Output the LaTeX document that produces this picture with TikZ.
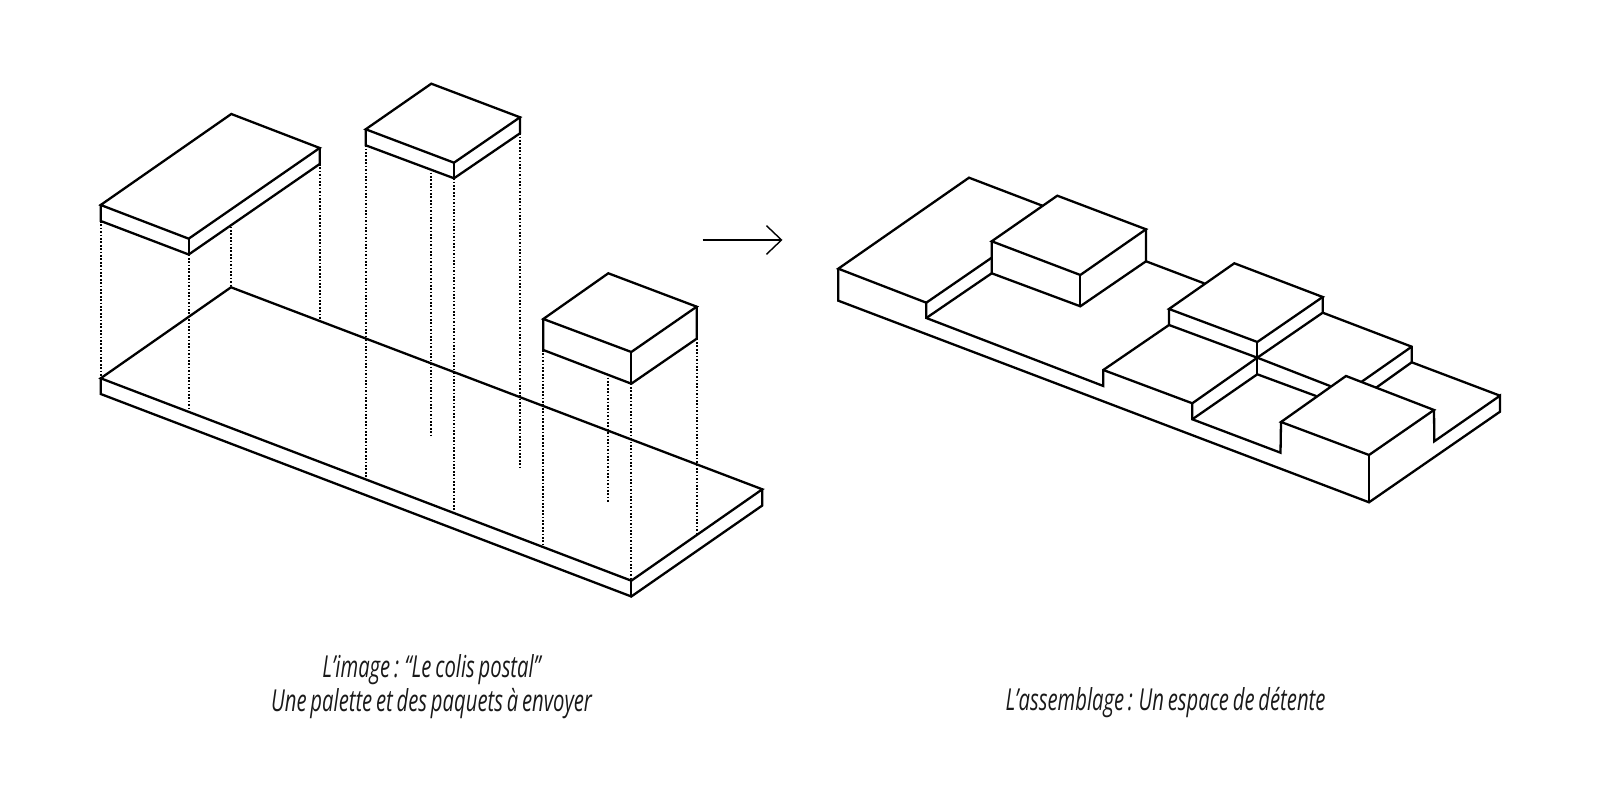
\documentclass[tikz,border=0pt]{standalone}
\usepackage{fontspec}
\usetikzlibrary{arrows.meta}
\newfontfamily\captionfont[FakeStretch=0.67,WordSpace=0.72]{Open Sans}
\begin{document}
\begin{tikzpicture}[x=0.01cm,y=-0.01cm,
		edge/.style={line width=0.023cm,line join=miter,line cap=round},
		dotline/.style={line width=0.018cm,dash pattern=on 0.017cm off 0.017cm},
		caption/.style={align=center,font=\captionfont\itshape\fontsize{8.6pt}{9.65pt}\selectfont,text=black!90,inner sep=0pt}]
			\useasboundingbox (0,0) rectangle (1600,801);
			\coordinate (A1) at (100.7,378.3);
			\coordinate (A2) at (231,287.3);
			\coordinate (A3) at (762.3,489.3);
			\coordinate (A4) at (631.3,580.7);
			\coordinate (A5) at (100.7,394);
			\coordinate (A6) at (631.3,596.5);
			\coordinate (A7) at (762.3,505.5);
			\coordinate (B1) at (100.7,205);
			\coordinate (B2) at (231.3,114);
			\coordinate (B3) at (319.7,148);
			\coordinate (B4) at (188.7,238.7);
			\coordinate (B5) at (100.7,221);
			\coordinate (B6) at (188.7,254.5);
			\coordinate (B7) at (319.7,164);
			\coordinate (C1) at (365.7,129.3);
			\coordinate (C2) at (431.3,83.7);
			\coordinate (C3) at (520,117.3);
			\coordinate (C4) at (454,162.7);
			\coordinate (C5) at (365.7,145.3);
			\coordinate (C6) at (454,178.3);
			\coordinate (C7) at (520,133.3);
			\coordinate (D1) at (543.3,319);
			\coordinate (D2) at (608.3,273.3);
			\coordinate (D3) at (696.7,306.7);
			\coordinate (D4) at (631.3,352);
			\coordinate (D5) at (543.3,350);
			\coordinate (D6) at (631.3,383.7);
			\coordinate (D7) at (696.7,338.7);
			\draw[edge] (A1) -- (A2) -- (A3) -- (A4) -- cycle;
			\draw[edge] (A1) -- (A5) -- (A6) -- (A7) -- (A3);
			\draw[edge] (A4) -- (A6);
			\foreach \pack in {B,C,D} {
				\draw[edge] (\pack1) -- (\pack2) -- (\pack3) -- (\pack4) -- cycle;
				\draw[edge] (\pack1) -- (\pack5) -- (\pack6) -- (\pack7) -- (\pack3);
				\draw[edge] (\pack4) -- (\pack6);
			}
			\draw[dotline] (B5) -- (A1);
			\draw[dotline] (B6) -- (188.7,410);
			\draw[dotline] (231,226.7) -- (A2);
			\draw[dotline] (B7) -- (319.7,319);
			\draw[dotline] (C5) -- (365.7,478);
			\draw[dotline] (431.3,172.7) -- (431.3,435);
			\draw[dotline] (C6) -- (454,511.7);
			\draw[dotline] (C7) -- (520,469.3);
			\draw[dotline] (D5) -- (543.3,545);
			\draw[dotline] (608.3,377.7) -- (608.3,502.7);
			\draw[dotline] (D6) -- (A4);
			\draw[dotline] (D7) -- (696.7,533);
			\coordinate (ArrowA) at (702.7,240);
			\coordinate (ArrowB) at (782.5,240);
			\draw[line width=0.014cm,-{Straight Barb[length=0.15cm,width=0.286cm]}] (ArrowA) -- (ArrowB);
			\coordinate (E1) at (838.3,268.7);
			\coordinate (E2) at (969,177.7);
			\coordinate (E3) at (1042.3,205.7);
			\coordinate (E4) at (926.3,302.7);
			\coordinate (E5) at (926.3,318);
			\coordinate (E6) at (838.3,300.7);
			\coordinate (E7) at (1369,502.3);
			\coordinate (E8) at (1500,411.7);
			\coordinate (E9) at (1500,395.7);
			\coordinate (F1) at (991.7,241.3);
			\coordinate (F2) at (1057.3,195.7);
			\coordinate (F3) at (1146,229.3);
			\coordinate (F4) at (1080.3,275);
			\coordinate (F5) at (991.7,273.3);
			\coordinate (F6) at (1080.3,306.3);
			\coordinate (F7) at (1146,261.3);
			\coordinate (F8) at (991.7,257.7);
			\coordinate (G1) at (1169,309);
			\coordinate (G2) at (1234.3,263.3);
			\coordinate (G3) at (1322.7,297);
			\coordinate (G4) at (1257.3,342);
			\coordinate (G5) at (1169,325);
			\coordinate (G6) at (1257.3,357.7);
			\coordinate (G7) at (1322.7,312.7);
			\coordinate (G8) at (1204,283.3);
			\coordinate (H1) at (1281,422);
			\coordinate (H2) at (1346,376);
			\coordinate (H3) at (1434,410);
			\coordinate (H4) at (1369,455);
			\coordinate (H5) at (1280.5,452.7);
			\coordinate (H6) at (1434.3,441.3);
			\coordinate (S1) at (1103.3,386);
			\coordinate (S2) at (1103.3,370);
			\coordinate (S3) at (1192.3,403.3);
			\coordinate (S4) at (1192.3,419.3);
			\coordinate (S5) at (1257.3,374.3);
			\coordinate (S6) at (1330,386);
			\coordinate (S7) at (1316,396);
			\coordinate (T1) at (1411.7,346.7);
			\coordinate (T2) at (1411.7,362.3);
			\coordinate (T3) at (1361.7,381.7);
			\coordinate (T4) at (1376.7,387.3);
			\draw[edge] (E3) -- (E2) -- (E1) -- (E4) -- (E5) -- (S1) -- (S2) -- (G5);
			\draw[edge] (E1) -- (E6) -- (E7) -- (E8) -- (E9) -- (H6) -- (H3);
			\draw[edge] (E4) -- (F8);
			\draw[edge] (E5) -- (F5);
			\draw[edge] (F1) -- (F2) -- (F3) -- (F4) -- cycle;
			\draw[edge] (F1) -- (F5) -- (F6) -- (F7) -- (F3);
			\draw[edge] (F4) -- (F6);
			\draw[edge] (F7) -- (G8);
			\draw[edge] (G1) -- (G2) -- (G3) -- (G4) -- cycle;
			\draw[edge] (G1) -- (G5) -- (G6) -- (G7) -- (G3);
			\draw[edge] (G4) -- (S5);
			\draw[edge] (S2) -- (S3) -- (S4) -- (H5) -- (H1);
			\draw[edge] (S3) -- (G6) -- (S6);
			\draw[edge] (S4) -- (S5) -- (S7);
			\draw[edge] (H1) -- (H2) -- (H3) -- (H4) -- cycle;
			\draw[edge] (H4) -- (E7);
			\draw[edge] (G7) -- (T1) -- (T2) -- (E9);
			\draw[edge] (T1) -- (T3);
			\draw[edge] (T2) -- (T4);
			\node[caption] (CapLeft) at (431.6,687) {L’image : “Le colis postal”\\Une palette et des paquets à envoyer};
			\node[caption] (CapRight) at (1165.5,703) {L’assemblage : Un espace de détente};
		\end{tikzpicture}
\end{document}
